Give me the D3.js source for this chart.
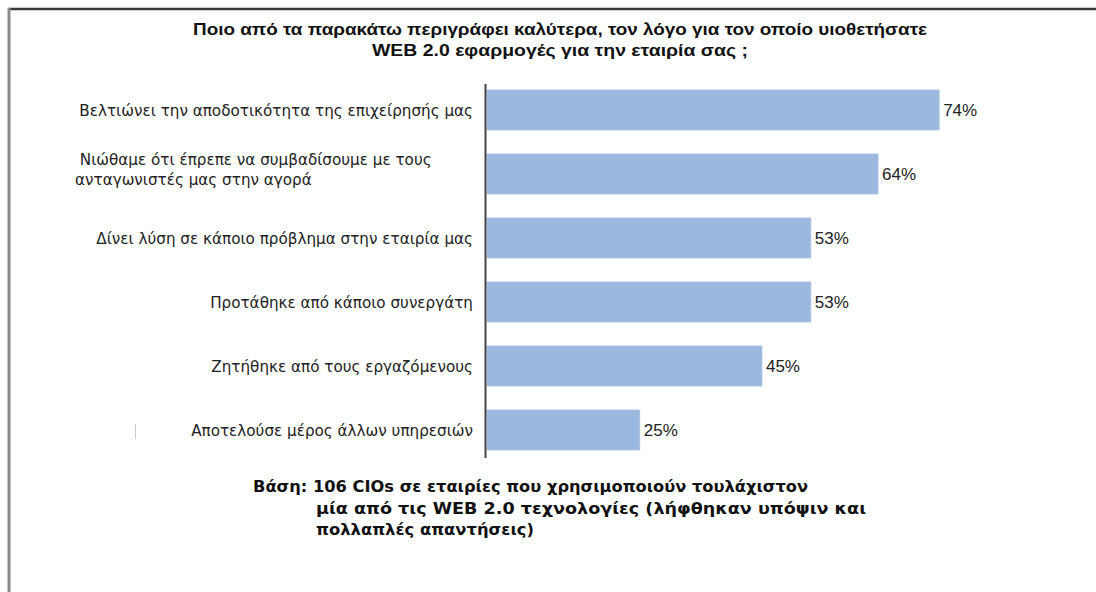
<!DOCTYPE html>
<html lang="el">
<head>
  <meta charset="utf-8"/>
  <script src="https://d3js.org/d3.v7.min.js"></script>
  <style>
    body { margin: 0; background: #fff; }
    svg { display: block; }
    .cat { font: 15.2px "DejaVu Sans", Verdana, sans-serif; fill: #222; }
    .val { font: 17px "Liberation Sans", sans-serif; fill: #222; }
    .title { font: bold 16px "Liberation Sans", sans-serif; fill: #111; }
    .note { font: bold 15px "DejaVu Sans", Tahoma, sans-serif; fill: #111; }
  </style>
</head>
<body>
<div id="chart"></div>
<script>
  // Data
  const categories = [
    ["Βελτιώνει την αποδοτικότητα της επιχείρησής μας"],
    [" Νιώθαμε ότι έπρεπε να συμβαδίσουμε με τους", "ανταγωνιστές μας στην αγορά"],
    ["Δίνει λύση σε κάποιο πρόβλημα στην εταιρία μας"],
    ["Προτάθηκε από κάποιο συνεργάτη"],
    ["Ζητήθηκε από τους εργαζόμενους"],
    ["Αποτελούσε μέρος άλλων υπηρεσιών"]
  ];
  const values = [74, 64, 53, 53, 45, 25];
  const titleLines = [
    "Ποιο από τα παρακάτω περιγράφει καλύτερα, τον λόγο για τον οποίο υιοθετήσατε",
    "WEB 2.0 εφαρμογές για την εταιρία σας ;"
  ];
  const titleWidths = [734, 376];
  const noteLines = [
    "Βάση: 106 CIOs σε εταιρίες που χρησιμοποιούν τουλάχιστον",
    "μία από τις WEB 2.0 τεχνολογίες (λήφθηκαν υπόψιν και",
    "πολλαπλές απαντήσεις)"
  ];
  const noteWidths = [555, 550, 218];

  const width = 1096, height = 592;
  const svg = d3.select("#chart").append("svg")
    .attr("width", width).attr("height", height);

  // frame: dark top rule, grey left rule
  svg.append("line").attr("x1", 8).attr("x2", width).attr("y1", 9).attr("y2", 9)
    .attr("stroke", "#3a3a3a").attr("stroke-width", 2.5);
  svg.append("line").attr("x1", 9).attr("x2", 9).attr("y1", 8).attr("y2", height)
    .attr("stroke", "#8a8a8a").attr("stroke-width", 3);

  // title
  svg.append("text").attr("class", "title").attr("text-anchor", "middle")
    .selectAll("tspan").data(titleLines).enter().append("tspan")
    .attr("x", 560).attr("y", (d, i) => 35 + i * 21)
    .attr("textLength", (d, i) => titleWidths[i])
    .attr("lengthAdjust", "spacingAndGlyphs")
    .text(d => d);

  const idx = d3.range(values.length);
  const y = d3.scaleBand().domain(idx).range([78, 462])
    .paddingInner(0.375).paddingOuter(0.1875);
  const x = d3.scaleLinear().domain([0, 100]).range([487, 1098]);

  const g = svg.append("g");

  g.selectAll("rect").data(values).enter().append("rect")
    .attr("x", x(0))
    .attr("y", (d, i) => y(i))
    .attr("width", d => x(d) - x(0))
    .attr("height", y.bandwidth())
    .attr("fill", "#9bb8de")
    .attr("stroke", "#a9c3e6").attr("stroke-width", 0.8);

  g.selectAll(".val").data(values).enter().append("text")
    .attr("class", "val")
    .attr("x", d => x(d) + 4)
    .attr("y", (d, i) => y(i) + y.bandwidth() / 2 + 6)
    .text(d => d + "%");

  // category labels: single lines right-aligned, the two-line one left-aligned
  categories.forEach((lines, i) => {
    const cy = y(i) + y.bandwidth() / 2;
    if (lines.length === 1) {
      g.append("text").attr("class", "cat")
        .attr("x", 473).attr("y", cy + 6)
        .attr("text-anchor", "end").text(lines[0]);
    } else {
      const t = g.append("text").attr("class", "cat").attr("xml:space", "preserve");
      lines.forEach((l, j) => {
        t.append("tspan").attr("x", 75).attr("y", cy - 10 + j * 20 + 1).text(l);
      });
    }
  });

  // axis line
  g.append("line").attr("x1", 485.5).attr("x2", 485.5).attr("y1", 84).attr("y2", 458)
    .attr("stroke", "#444").attr("stroke-width", 2);

  // small grey mark left of the last label
  g.append("line").attr("x1", 135.5).attr("x2", 135.5)
    .attr("y1", y(5) + 14).attr("y2", y(5) + 29)
    .attr("stroke", "#ccc").attr("stroke-width", 1);

  // base note
  const note = svg.append("text").attr("class", "note");
  noteLines.forEach((l, i) => {
    note.append("tspan").attr("x", i === 0 ? 253 : 316).attr("y", 492 + i * 21.5)
      .attr("textLength", noteWidths[i]).attr("lengthAdjust", "spacingAndGlyphs")
      .text(l);
  });
</script>
</body>
</html>
